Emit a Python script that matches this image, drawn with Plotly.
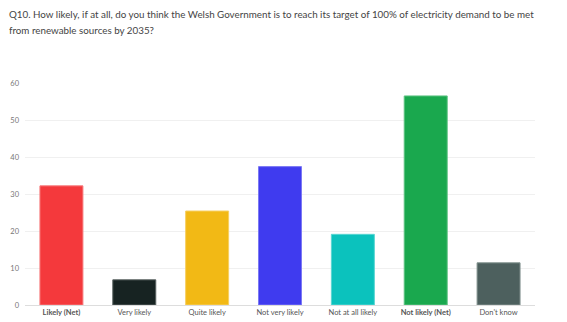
import plotly.graph_objects as go

categories = ["Likely (Net)", "Very likely", "Quite likely", "Not very likely",
              "Not at all likely", "Not likely (Net)", "Don't know"]
values = [32.2, 6.8, 25.4, 37.4, 19.1, 56.5, 11.4]
colors = ["#F4393C", "#172322", "#F2B915", "#3F3BEF", "#0BC2BD", "#1AA84E", "#4D605E"]
borders = ["#F77A7C", "#5A6362", "#F6CF62", "#7C79F4", "#5AD6D2", "#5EC383", "#849390"]
net_labels = {"Likely (Net)", "Not likely (Net)"}
tick_text = [f"<b>{c}</b>" if c in net_labels else c for c in categories]
y_ticks = [0, 10, 20, 30, 40, 50, 60]

title_lines = [
    "Q10. How likely, if at all, do you think the Welsh Government is to reach its target "
    "of 100% of electricity demand to be met",
    "from renewable sources by 2035?",
]

fig = go.Figure(go.Bar(
    x=categories, y=values,
    marker=dict(color=colors, line=dict(color=borders, width=1)),
    hoverinfo="x+y",
))

fig.update_layout(
    width=567, height=322,
    margin=dict(l=25, r=32, t=83, b=17),
    paper_bgcolor="white", plot_bgcolor="white",
    bargap=0.41,
    showlegend=False,
    font=dict(family="Lato, sans-serif", color="#555555"),
    annotations=[
        dict(text=line, xref="paper", yref="paper", x=-0.035, y=1.0,
             xanchor="left", yanchor="middle", yshift=83 - 14 - 16 * i,
             align="left", showarrow=False,
             font=dict(size=9.8, color="#444444"))
        for i, line in enumerate(title_lines)
    ],
)
fig.update_xaxes(
    tickmode="array", tickvals=categories, ticktext=tick_text,
    tickfont=dict(size=7.5, color="#555555"), ticks="", showgrid=False,
    showline=True, linecolor="#dddddd", linewidth=1, automargin=False,
)
fig.update_yaxes(
    range=[0, 60], tickvals=y_ticks, tickfont=dict(size=7.5, color="#777777"),
    showgrid=True, gridcolor="#f0f0f0", gridwidth=1, zeroline=False,
    ticks="", ticklabelstandoff=5, automargin=False,
)

fig.write_html("out.html")
